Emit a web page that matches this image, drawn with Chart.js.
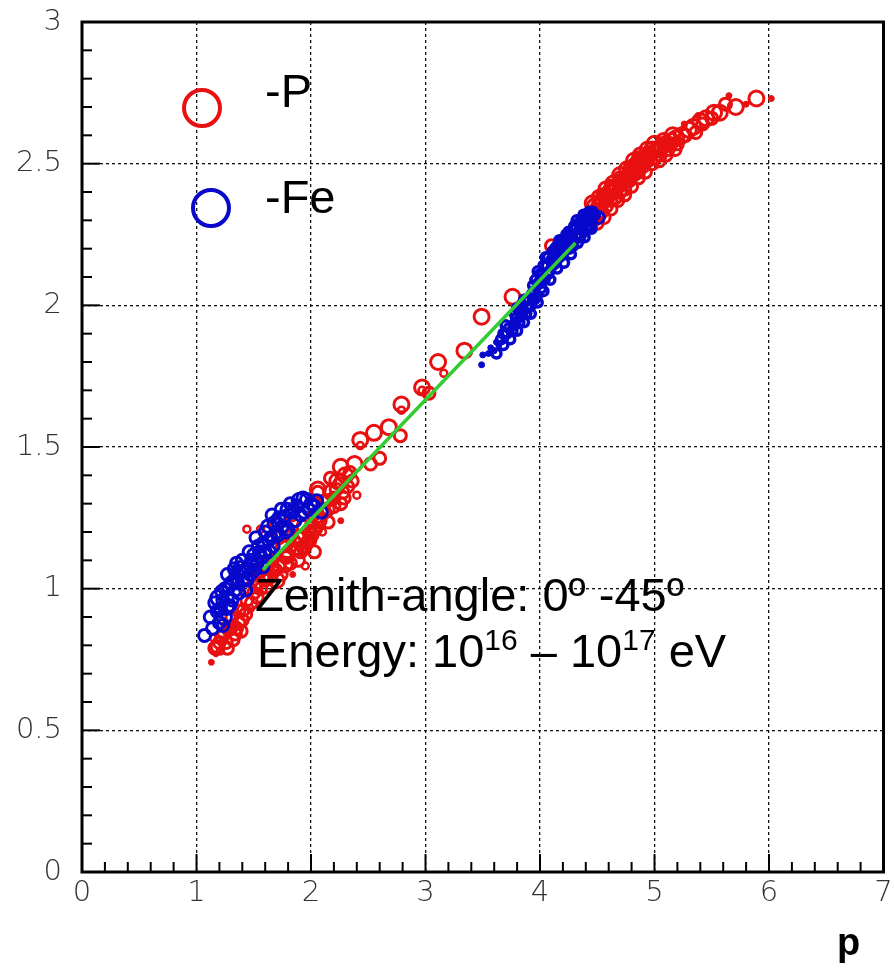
<!DOCTYPE html>
<html>
<head>
<meta charset="utf-8">
<script src="https://cdn.jsdelivr.net/npm/chart.js@4/dist/chart.umd.min.js"></script>
<style>
  html, body { margin: 0; padding: 0; background: #fff; }
  #wrap { width: 894px; height: 970px; }
</style>
</head>
<body>
<div id="wrap"><canvas id="c" width="894" height="970"></canvas></div>
<script>
// Axis ranges
const xRange = [0, 7];
const yRange = [0, 3];

// Proton showers (-P)
const protonLarge = [
  [4.44,2.32],[4.48,2.35],[4.52,2.35],[4.55,2.37],[4.58,2.38],[4.61,2.40],[4.64,2.40],[4.67,2.42],
  [4.70,2.43],[4.73,2.44],[4.76,2.45],[4.79,2.47],[4.82,2.49],[4.85,2.50],[4.88,2.51],[4.91,2.52],
  [4.95,2.53],[4.98,2.55],[5.02,2.55],[5.06,2.56],[5.10,2.57],[5.15,2.58],[5.19,2.59],[5.24,2.60],
  [5.30,2.62],[5.34,2.63],[5.40,2.65],[5.45,2.66],[5.52,2.68],[5.57,2.68],[5.71,2.70],[5.89,2.73],
  [3.76,2.03],[3.49,1.96],[3.34,1.84],[3.11,1.80],[2.97,1.71],[2.79,1.65],[2.68,1.57],[2.55,1.55],
  [2.43,1.525],[2.26,1.43],[2.23,1.38],[2.06,1.35],[1.70,1.03],[1.77,1.085],
  [4.46,2.36],[4.52,2.38],[4.58,2.41],[4.64,2.43],[4.70,2.46],[4.76,2.48],[4.82,2.51],[4.88,2.53],
  [4.94,2.55],[5.00,2.57],[5.08,2.58],[5.16,2.60],[2.30,1.40],[2.38,1.44],[2.18,1.34]
];
const protonMedium = [
  [4.47,2.30],[4.50,2.32],[4.54,2.33],[4.58,2.35],[4.62,2.37],[4.66,2.38],[4.70,2.40],[4.74,2.41],
  [4.78,2.44],[4.82,2.46],[4.86,2.47],[4.90,2.49],[4.94,2.51],[4.86,2.52],[4.78,2.48],[4.70,2.45],
  [4.62,2.42],[4.55,2.39],[5.00,2.52],[5.05,2.53],[5.12,2.55],[5.20,2.57],[5.27,2.60],[5.36,2.61],
  [5.42,2.64],[5.50,2.66],[5.62,2.71],[4.10,2.21],
  [4.50,2.29],[4.56,2.31],[4.62,2.34],[4.68,2.37],[4.74,2.39],[4.80,2.42],[4.86,2.45],[4.92,2.47],
  [4.98,2.50],[5.04,2.51],[5.10,2.53],[5.18,2.55],
  [4.49,2.34],[4.53,2.36],[4.57,2.37],[4.60,2.39],[4.65,2.41],[4.69,2.42],[4.72,2.43],[4.77,2.46],
  [4.81,2.47],[4.84,2.49],[4.89,2.50],[4.93,2.53],[4.97,2.53],[5.03,2.55],[5.08,2.56],[5.14,2.57],
  [3.03,1.69],[2.78,1.54],[2.60,1.46],[2.52,1.44],[2.34,1.41],[2.17,1.39],[2.32,1.36],[2.20,1.32],
  [2.12,1.31],[2.26,1.30],[2.15,1.28],[2.06,1.255],[2.15,1.235],
  [1.18,0.795],[1.22,0.83],[1.26,0.81],[1.34,0.84],[1.39,0.85],[1.28,0.855],[1.37,0.88],[1.31,0.90],
  [1.37,0.92],[1.41,0.925],[1.44,0.96],[1.50,0.985],[1.52,1.006],[1.58,1.04],[1.61,1.006],[1.69,1.067],
  [1.89,1.10],[1.93,1.145],[1.97,1.165],[2.03,1.13],[2.00,1.22],[2.07,1.235],[2.12,1.27],
  [2.20,1.29],[2.06,1.34],[2.29,1.32],[1.70,1.23],[1.83,1.26],[1.83,1.19],[1.90,1.18],[1.75,1.15],
  [1.80,1.12],[1.86,1.14],[1.66,1.10],[1.62,1.08],[1.55,1.06],[1.46,1.00],[1.30,0.86],[1.98,1.20],
  [1.16,0.79],[1.20,0.81],[1.24,0.84],[1.27,0.79],[1.32,0.82],[1.35,0.86],[1.40,0.89],[1.43,0.91],
  [1.48,0.95],[1.53,0.97],[1.56,1.00],[1.60,1.03],[1.64,1.04],[1.67,1.06],[1.72,1.08],[1.74,1.05],
  [1.78,1.11],[1.82,1.09],[1.85,1.17],[1.88,1.14],[1.91,1.13],[1.95,1.15],[1.99,1.17],[2.01,1.19],
  [2.04,1.21],[2.08,1.24],[2.10,1.28],[2.14,1.31],[2.22,1.35],[2.25,1.37],[2.28,1.34],[2.36,1.38],
  [1.72,1.18],[1.78,1.22],[1.60,1.12],[1.93,1.22],[2.02,1.26]
];
const protonSmall = [
  [3.16,1.76],[2.97,1.70],[2.79,1.63],[2.43,1.505],[2.40,1.33],
  [1.44,1.21],[1.56,1.21],[1.15,0.825],[1.95,1.08],[2.10,1.20],[1.47,0.93],[1.25,0.87],[1.21,0.78]
];
const protonDots = [
  [5.65,2.74],[5.80,2.71],[6.02,2.73],[5.38,2.67],[5.26,2.64],[5.04,2.585],
  [1.13,0.74],[1.84,1.05],[2.26,1.24],[1.17,0.77]
];

// Iron showers (-Fe)
const ironLarge = [
  [1.19,0.967],[1.39,1.07],[1.69,1.23],[1.90,1.31],[1.24,0.90],[1.26,0.935]
];
const ironMedium = [
  [1.07,0.835],[1.28,1.006],[1.34,0.995],[1.34,1.04],[1.44,1.03],[1.48,1.10],[1.54,1.15],[1.57,1.11],
  [1.63,1.17],[1.71,1.19],[1.77,1.255],[1.80,1.21],[1.86,1.24],[1.96,1.315],[1.94,1.27],[2.03,1.29],
  [2.09,1.27],[1.31,0.96],[1.37,0.985],[1.43,0.995],[1.51,1.067],[1.58,1.077],[1.64,1.13],[1.21,0.93],
  [1.22,0.99],[1.27,1.05],[1.35,1.09],[1.42,1.06],[1.46,1.13],[1.52,1.18],[1.60,1.20],[1.66,1.26],
  [1.74,1.28],[1.82,1.30],[1.85,1.28],[2.00,1.30],[1.16,0.95],[1.20,0.88],[4.51,2.31],
  [1.12,0.90],[1.14,0.86],[1.18,0.92],[1.23,0.96],[1.25,1.00],[1.29,0.94],[1.30,1.02],[1.33,1.07],
  [1.36,1.02],[1.38,1.06],[1.40,1.10],[1.41,1.03],[1.45,1.07],[1.47,1.05],[1.50,1.12],[1.53,1.09],
  [1.55,1.13],[1.58,1.16],[1.60,1.13],[1.62,1.22],[1.65,1.18],[1.67,1.15],[1.70,1.20],[1.72,1.25],
  [1.75,1.22],[1.78,1.20],[1.79,1.28],[1.83,1.27],[1.88,1.29],[1.91,1.26],[1.93,1.32],[1.98,1.28],
  [2.05,1.31],[1.27,0.97],[1.23,0.87]
];
const ironSmall = [
  [3.66,1.88],[3.68,1.90],[3.73,1.92],[3.76,1.91],[3.79,1.955],[3.82,1.94],[3.85,1.98],[3.88,1.97],
  [3.90,2.02],[3.92,2.00],[3.95,2.05],[3.97,2.03],[3.99,2.08],[4.01,2.06],[4.02,2.11],[4.04,2.09],
  [4.06,2.14],[4.08,2.12],[4.10,2.16],[4.12,2.17],[4.14,2.15],[4.16,2.19],[4.18,2.20],[4.20,2.18],
  [4.22,2.23],[4.24,2.22],[4.26,2.20],[4.28,2.25],[4.29,2.23],[4.31,2.27],[4.33,2.25],[4.35,2.27],
  [4.37,2.29],[4.39,2.26],[4.42,2.30],[4.44,2.28],[4.46,2.31],[4.48,2.32],[4.40,2.31],[4.34,2.29],
  [4.26,2.25],[4.15,2.21],[4.05,2.17],[3.98,2.12],[3.87,2.02],[3.80,1.99],
  [3.70,1.93],[3.78,1.97],[3.86,2.02],[3.94,2.07],[4.00,2.11],[4.07,2.17],[4.13,2.20],[4.19,2.23],
  [4.25,2.26],[4.30,2.28],[4.36,2.30],[4.41,2.32],[4.46,2.33],
  [3.62,1.83],[3.68,1.86],[3.74,1.88],[3.80,1.91],[3.86,1.94],[3.92,1.97],[3.98,2.01],[4.03,2.05],
  [4.09,2.09],[4.15,2.13],[4.21,2.15],[4.27,2.18],[4.33,2.22],[4.39,2.24],[4.45,2.27],
  [3.71,1.90],[3.77,1.93],[3.83,1.96],[3.89,1.99],[3.95,2.02],[4.01,2.08],[4.07,2.11],[4.11,2.14],
  [4.17,2.17],[4.23,2.20],[4.29,2.21],[4.35,2.24],[4.41,2.27],[4.43,2.33],[4.38,2.32],[4.32,2.30],
  [4.23,2.25],[4.17,2.23],[4.11,2.19],[4.03,2.14],[3.96,2.09],[3.93,2.04],[3.84,2.00],[4.20,2.21]
];
const ironDots = [
  [3.49,1.79],[3.50,1.825],[3.57,1.85],[3.62,1.87],[3.60,1.84],[3.64,1.86],[3.70,1.88],[3.55,1.83]
];

// Fitted line
const fitLine = [[1.58,1.067],[4.31,2.22]];

const RED = 'rgb(232,16,16)';
const BLUE = 'rgb(8,8,205)';

const toXY = arr => arr.map(p => ({ x: p[0], y: p[1] }));

function ring(data, color, r, w, order) {
  return {
    type: 'scatter', data: toXY(data), order,
    pointStyle: 'circle', pointRadius: r, borderColor: color,
    backgroundColor: 'rgba(0,0,0,0)', borderWidth: w, pointHoverRadius: r
  };
}
function dots(data, color, r, order) {
  return {
    type: 'scatter', data: toXY(data), order,
    pointStyle: 'circle', pointRadius: r, borderColor: color,
    backgroundColor: color, borderWidth: 1, pointHoverRadius: r
  };
}

const TICK_FONT = { family: 'DejaVu Sans', size: 29, weight: 300 };

// Inward minor/major ticks, frame, legend and annotation text
const decorations = {
  id: 'decorations',
  afterDatasetsDraw(chart) {
    const { ctx, chartArea: a, scales } = chart;
    const xs = scales.x, ys = scales.y;
    ctx.save();
    ctx.strokeStyle = '#000';
    ctx.lineWidth = 2;
    for (let i = 1; i < 35; i++) {
      const px = xs.getPixelForValue(i * 0.2);
      const len = (i % 5 === 0) ? 18 : 10;
      ctx.beginPath(); ctx.moveTo(px, a.bottom); ctx.lineTo(px, a.bottom - len); ctx.stroke();
    }
    for (let i = 1; i < 30; i++) {
      const py = ys.getPixelForValue(i * 0.1);
      const len = (i % 5 === 0) ? 18 : 10;
      ctx.beginPath(); ctx.moveTo(a.left, py); ctx.lineTo(a.left + len, py); ctx.stroke();
    }
    ctx.lineWidth = 3;
    ctx.strokeRect(a.left, a.top, a.right - a.left, a.bottom - a.top);

    // legend
    ctx.lineWidth = 4;
    ctx.strokeStyle = RED;
    ctx.beginPath(); ctx.arc(202, 108, 18, 0, Math.PI * 2); ctx.stroke();
    ctx.strokeStyle = BLUE;
    ctx.beginPath(); ctx.arc(211, 208, 18, 0, Math.PI * 2); ctx.stroke();
    ctx.fillStyle = '#000';
    ctx.font = '47px "Liberation Sans", Arial, sans-serif';
    ctx.textBaseline = 'alphabetic';
    ctx.textAlign = 'left';
    ctx.fillText('-P', 265, 107);
    ctx.fillText('-Fe', 265, 213);

    // annotation
    ctx.fillText('Zenith-angle: 0º -45º', 255, 611);
    const big = '47px "Liberation Sans", Arial, sans-serif';
    const sup = '30px "Liberation Sans", Arial, sans-serif';
    let x = 257;
    const base = 667;
    const parts = [['Energy: 10', big, 0], ['16', sup, -17], [' – 10', big, 0], ['17', sup, -17], [' eV', big, 0]];
    for (const [t, f, dy] of parts) {
      ctx.font = f;
      ctx.fillText(t, x, base + dy);
      x += ctx.measureText(t).width;
    }

    // axis name
    ctx.font = 'bold 38px "Liberation Sans", Arial, sans-serif';
    ctx.fillText('p', 837, 955);
    ctx.restore();
  }
};

const fmt = v => String(Math.round(v * 10) / 10);

new Chart(document.getElementById('c'), {
  data: {
    datasets: [
      { type: 'line', data: toXY(fitLine), borderColor: '#33cc33', borderWidth: 3.5,
        pointRadius: 0, fill: false, order: 0 },
      ring(ironLarge, BLUE, 7.5, 3, 1),
      ring(ironMedium, BLUE, 6, 3, 1),
      ring(ironSmall, BLUE, 4.5, 3.5, 1),
      dots(ironDots, BLUE, 3, 1),
      ring(protonLarge, RED, 7.5, 3, 2),
      ring(protonMedium, RED, 6, 3, 2),
      ring(protonSmall, RED, 3.5, 2.5, 2),
      dots(protonDots, RED, 3, 2)
    ]
  },
  options: {
    responsive: false,
    animation: false,
    devicePixelRatio: 1,
    layout: { padding: { top: 22, right: 3, left: 0, bottom: 0 } },
    plugins: { legend: { display: false }, tooltip: { enabled: false } },
    scales: {
      x: {
        type: 'linear', min: xRange[0], max: xRange[1],
        ticks: { stepSize: 1, color: '#333', font: TICK_FONT, padding: 4, maxRotation: 0, callback: fmt },
        grid: { color: '#111', lineWidth: 1.3, drawTicks: false },
        border: { display: false, dash: [3, 3] },
        afterFit(s) { s.height = 98; s.paddingLeft = 0; s.paddingRight = 0; }
      },
      y: {
        type: 'linear', min: yRange[0], max: yRange[1],
        ticks: { stepSize: 0.5, color: '#333', font: TICK_FONT, padding: 20, callback: fmt },
        grid: { color: '#111', lineWidth: 1.3, drawTicks: false },
        border: { display: false, dash: [3, 3] },
        afterFit(s) { s.width = 82; s.paddingTop = 0; s.paddingBottom = 0; }
      }
    }
  },
  plugins: [decorations]
});
</script>
</body>
</html>
